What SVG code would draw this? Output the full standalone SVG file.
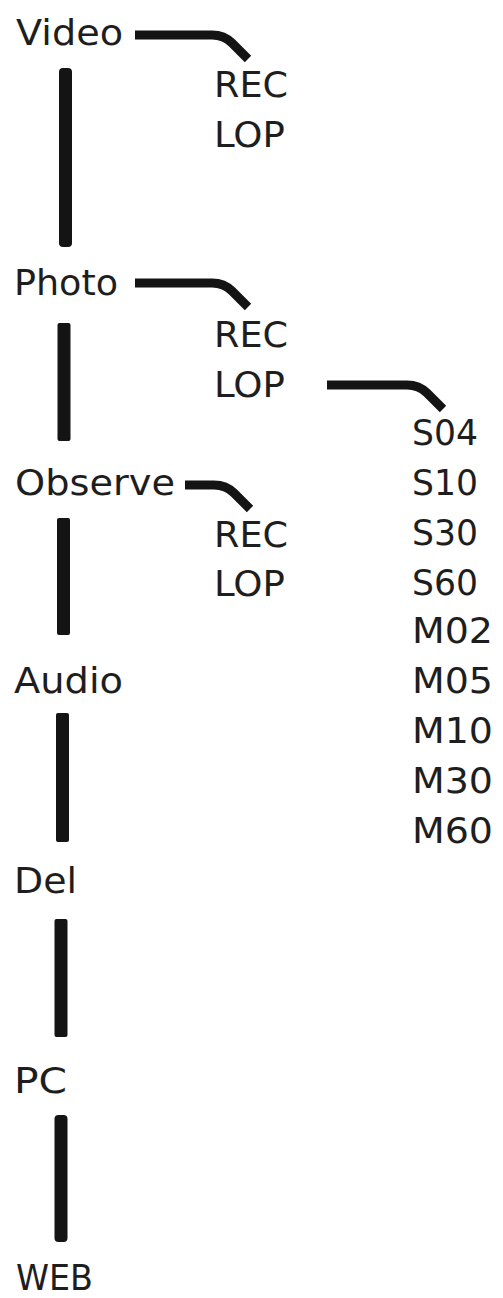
<svg xmlns="http://www.w3.org/2000/svg" width="503" height="1298" viewBox="0 0 503 1298">
<style>
  text { font-family: "DejaVu Sans", "Liberation Sans", sans-serif; font-size: 35px; fill: #1e1e1e; }
  .bar { fill: #141414; }
  .conn { fill: none; stroke: #141414; stroke-width: 9; stroke-linejoin: round; }
</style>
<rect width="503" height="1298" fill="#ffffff"/>
<g id="connectors">
  <rect class="bar" x="59" y="68" width="13" height="179" rx="4"/>
  <rect class="bar" x="57.5" y="323" width="13" height="118" rx="2"/>
  <rect class="bar" x="57" y="518" width="13" height="117" rx="2"/>
  <rect class="bar" x="56" y="713" width="13" height="129" rx="2"/>
  <rect class="bar" x="54.5" y="919" width="13" height="118" rx="2"/>
  <rect class="bar" x="54.5" y="1115" width="13" height="127" rx="4"/>
  <path class="conn" d="M135,35 L212,35 Q224,35 232,43 L248,59"/>
  <path class="conn" d="M135,283 L212,283 Q224,283 232,291 L248,307"/>
  <path class="conn" d="M185,485 L214,485 Q226,485 234,493 L250,509"/>
  <path class="conn" d="M327,385 L407,385 Q419,385 427,393 L443,409"/>
</g>
<g id="node-video"><text x="16" y="45" textLength="107" lengthAdjust="spacingAndGlyphs">Video</text></g>
<g id="node-video-rec"><text x="214" y="97" textLength="74" lengthAdjust="spacingAndGlyphs">REC</text></g>
<g id="node-video-lop"><text x="214" y="147" textLength="71" lengthAdjust="spacingAndGlyphs">LOP</text></g>
<g id="node-photo"><text x="14" y="295" textLength="104" lengthAdjust="spacingAndGlyphs">Photo</text></g>
<g id="node-photo-rec"><text x="214" y="347" textLength="74" lengthAdjust="spacingAndGlyphs">REC</text></g>
<g id="node-photo-lop"><text x="214" y="397" textLength="71" lengthAdjust="spacingAndGlyphs">LOP</text></g>
<g id="node-observe"><text x="15" y="495" textLength="160" lengthAdjust="spacingAndGlyphs">Observe</text></g>
<g id="node-observe-rec"><text x="214" y="547" textLength="74" lengthAdjust="spacingAndGlyphs">REC</text></g>
<g id="node-observe-lop"><text x="214" y="596" textLength="71" lengthAdjust="spacingAndGlyphs">LOP</text></g>
<g id="node-audio"><text x="14" y="693" textLength="109" lengthAdjust="spacingAndGlyphs">Audio</text></g>
<g id="node-del"><text x="14" y="893" textLength="63" lengthAdjust="spacingAndGlyphs">Del</text></g>
<g id="node-pc"><text x="14" y="1093" textLength="53" lengthAdjust="spacingAndGlyphs">PC</text></g>
<g id="node-web"><text x="16" y="1290" textLength="77" lengthAdjust="spacingAndGlyphs">WEB</text></g>
<g id="node-intervals">
  <text x="412" y="445" textLength="66" lengthAdjust="spacingAndGlyphs">S04</text>
  <text x="412" y="495" textLength="66" lengthAdjust="spacingAndGlyphs">S10</text>
  <text x="412" y="545" textLength="66" lengthAdjust="spacingAndGlyphs">S30</text>
  <text x="412" y="595" textLength="66" lengthAdjust="spacingAndGlyphs">S60</text>
  <text x="412" y="643" textLength="81" lengthAdjust="spacingAndGlyphs">M02</text>
  <text x="412" y="693" textLength="81" lengthAdjust="spacingAndGlyphs">M05</text>
  <text x="412" y="743" textLength="81" lengthAdjust="spacingAndGlyphs">M10</text>
  <text x="412" y="793" textLength="81" lengthAdjust="spacingAndGlyphs">M30</text>
  <text x="412" y="843" textLength="81" lengthAdjust="spacingAndGlyphs">M60</text>
</g>
</svg>
